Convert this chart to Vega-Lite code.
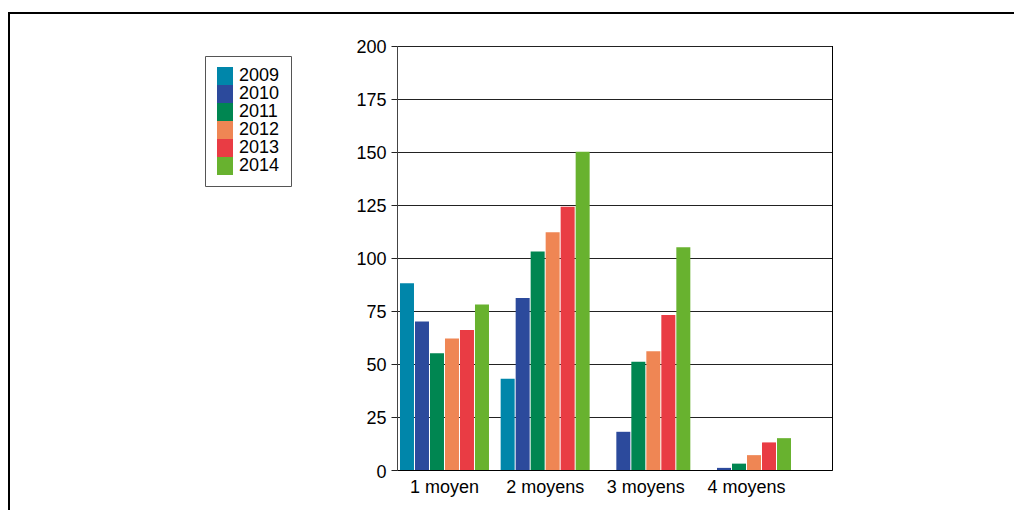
{
  "$schema": "https://vega.github.io/schema/vega-lite/v6.json",
  "autosize": {"type": "none"},
  "width": 1014,
  "height": 510,
  "padding": {"left": 9, "top": 13, "right": -9, "bottom": -13},
  "background": "white",
  "config": {
    "view": {"stroke": "#000", "strokeWidth": 2, "fill": "white"},
    "font": "Liberation Sans",
    "axis": {"labelFont": "Liberation Sans", "labelColor": "#000", "titleFont": "Liberation Sans"},
    "legend": {"labelFont": "Liberation Sans"}
  },
  "data": {
    "values": [
      {"cat": "1 moyen", "year": "2009", "v": 88},
      {"cat": "1 moyen", "year": "2010", "v": 70},
      {"cat": "1 moyen", "year": "2011", "v": 55},
      {"cat": "1 moyen", "year": "2012", "v": 62},
      {"cat": "1 moyen", "year": "2013", "v": 66},
      {"cat": "1 moyen", "year": "2014", "v": 78},
      {"cat": "2 moyens", "year": "2009", "v": 43},
      {"cat": "2 moyens", "year": "2010", "v": 81},
      {"cat": "2 moyens", "year": "2011", "v": 103},
      {"cat": "2 moyens", "year": "2012", "v": 112},
      {"cat": "2 moyens", "year": "2013", "v": 124},
      {"cat": "2 moyens", "year": "2014", "v": 150},
      {"cat": "3 moyens", "year": "2009", "v": 0},
      {"cat": "3 moyens", "year": "2010", "v": 18},
      {"cat": "3 moyens", "year": "2011", "v": 51},
      {"cat": "3 moyens", "year": "2012", "v": 56},
      {"cat": "3 moyens", "year": "2013", "v": 73},
      {"cat": "3 moyens", "year": "2014", "v": 105},
      {"cat": "4 moyens", "year": "2009", "v": 0},
      {"cat": "4 moyens", "year": "2010", "v": 1},
      {"cat": "4 moyens", "year": "2011", "v": 3},
      {"cat": "4 moyens", "year": "2012", "v": 7},
      {"cat": "4 moyens", "year": "2013", "v": 13},
      {"cat": "4 moyens", "year": "2014", "v": 15}
    ]
  },
  "layer": [
    {
      "mark": {"type": "bar", "opacity": 1},
      "encoding": {
        "x": {
          "field": "cat", "type": "nominal", "sort": null,
          "scale": {"range": [388, 823], "paddingInner": 0.116, "paddingOuter": 0.2185, "align": 0.068},
          "axis": {"orient": "bottom", "offset": -53, "title": null, "labelAngle": 0, "ticks": false, "domain": true, "domainColor": "#000", "domainWidth": 1, "labelFontSize": 18, "labelPadding": 8, "grid": false}
        },
        "xOffset": {
          "field": "year", "type": "nominal",
          "scale": {"paddingInner": 0.0667, "paddingOuter": 0}
        },
        "y": {
          "field": "v", "type": "quantitative",
          "scale": {"domain": [0, 200], "range": [457, 32.5], "nice": false, "zero": true},
          "axis": {"orient": "left", "offset": -388, "title": null, "values": [0, 25, 50, 75, 100, 125, 150, 175, 200], "tickSize": 6, "tickColor": "#222", "domainColor": "#444", "labelFontSize": 18, "labelPadding": 5, "labelOffset": 2, "grid": true, "gridColor": "#222", "gridWidth": 1, "gridOpacity": 1}
        },
        "color": {
          "field": "year", "type": "nominal",
          "scale": {"domain": ["2009", "2010", "2011", "2012", "2013", "2014"], "range": ["#0086AA", "#2C4A9C", "#008651", "#EF8654", "#E93C44", "#68B22F"]},
          "legend": {"title": null, "orient": "none", "legendX": 196, "legendY": 43, "direction": "vertical", "symbolType": "M-1,-1.125H1V1.125H-1Z", "symbolSize": 256, "symbolStrokeWidth": 0, "symbolOpacity": 1, "labelFontSize": 18, "labelOffset": 5, "labelColor": "#000", "rowPadding": 0, "padding": 11, "strokeColor": "#555", "fillColor": "white"}
        }
      }
    },
    {
      "mark": {"type": "bar", "opacity": 0},
      "encoding": {
        "x": {"field": "cat", "type": "nominal", "sort": null},
        "xOffset": {"field": "year", "type": "nominal"},
        "y": {
          "field": "v", "type": "quantitative",
          "axis": {"orient": "right", "offset": -191, "title": null, "labels": false, "ticks": false, "grid": false, "domain": true, "domainColor": "#000"}
        }
      }
    }
  ],
  "resolve": {"axis": {"y": "independent"}}
}
